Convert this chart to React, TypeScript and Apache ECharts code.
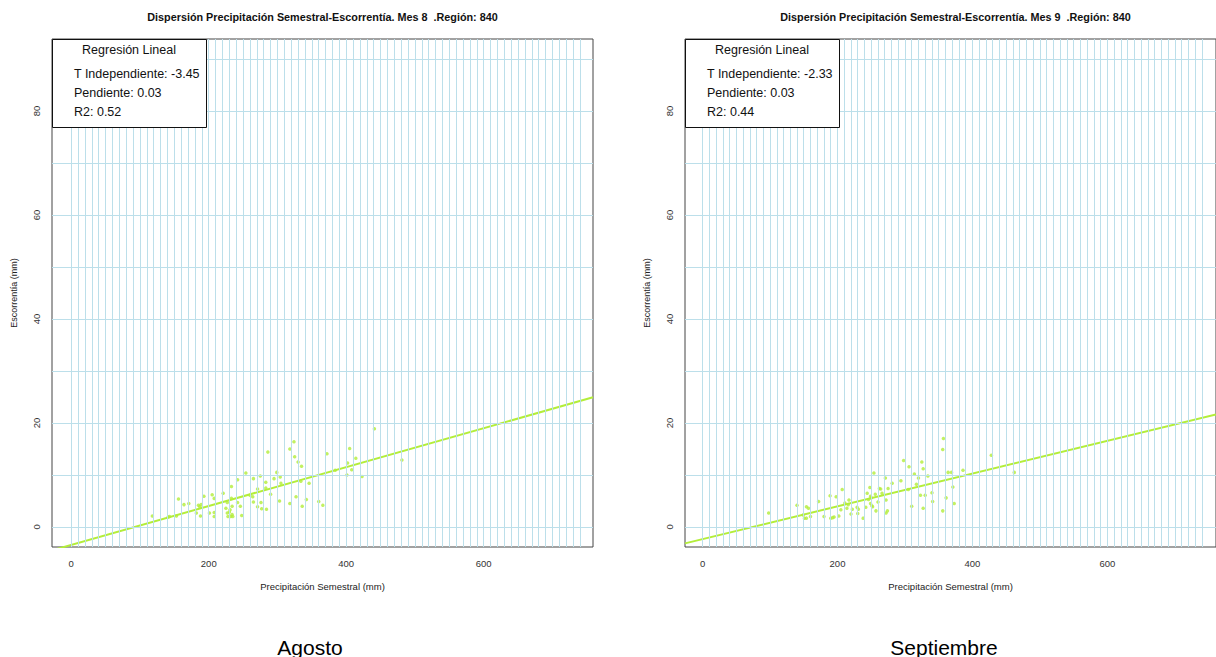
import React, { useEffect, useRef } from "react";
import * as echarts from "echarts";

// ---- data ----
const agostoPrecip = [118, 141, 143, 153, 156, 164, 171, 182, 185, 187, 188, 189, 193, 201, 205, 208, 208, 208, 221, 225, 227, 227, 228, 230, 231, 232, 234, 233, 234, 235, 233, 242, 242, 246, 248, 254, 260, 264, 265, 265, 271, 271, 275, 276, 277, 283, 283, 284, 286, 290, 295, 299, 304, 305, 303, 318, 318, 324, 325, 327, 330, 335, 334, 336, 342, 346, 360, 366, 372, 384, 401, 402, 405, 408, 414, 423, 441, 481];
const agostoEscorrentia = [2.1, 1.9, 2.0, 2.1, 5.4, 4.3, 4.5, 2.7, 4.2, 3.9, 2.1, 4.3, 5.9, 2.7, 6.2, 2.8, 2.0, 5.5, 6.5, 3.6, 4.7, 2.7, 2.0, 2.9, 3.3, 2.0, 4.0, 7.8, 2.4, 2.0, 5.5, 9.1, 4.7, 4.0, 2.2, 10.4, 6.1, 5.8, 9.3, 4.8, 7.3, 3.9, 9.8, 4.7, 3.5, 8.6, 7.5, 3.4, 14.4, 6.3, 9.3, 10.5, 9.6, 8.4, 5.0, 15.0, 4.5, 16.4, 13.5, 5.8, 12.5, 11.7, 8.8, 4.0, 5.3, 8.4, 4.9, 4.2, 14.1, 10.9, 10.0, 12.3, 15.1, 11.0, 13.2, 9.7, 18.9, 12.9];

const septiembrePrecip = [98, 140, 149, 151, 154, 157, 154, 160, 172, 180, 189, 190, 193, 195, 198, 202, 205, 207, 211, 214, 216, 217, 220, 222, 229, 231, 230, 238, 242, 244, 246, 248, 249, 249, 250, 251, 252, 254, 256, 257, 260, 262, 264, 266, 271, 272, 272, 274, 275, 281, 294, 298, 305, 306, 310, 314, 317, 320, 323, 325, 327, 327, 330, 334, 340, 341, 356, 356, 357, 361, 364, 369, 371, 373, 386, 428, 462];
const septiembreEscorrentia = [2.7, 4.2, 2.3, 1.7, 3.9, 3.6, 1.7, 2.0, 4.9, 2.0, 6.0, 1.7, 1.8, 1.9, 5.8, 2.1, 3.3, 7.2, 4.6, 3.6, 4.3, 5.2, 2.5, 3.4, 3.8, 3.4, 2.6, 1.7, 3.8, 6.5, 5.3, 7.6, 5.9, 4.5, 5.6, 4.1, 3.9, 10.4, 6.3, 3.1, 4.8, 7.4, 7.3, 6.5, 9.4, 5.2, 2.7, 3.1, 7.4, 8.4, 8.9, 12.8, 7.2, 11.6, 4.0, 10.2, 8.2, 9.4, 6.1, 12.5, 11.2, 3.6, 6.1, 9.8, 6.6, 4.9, 3.1, 14.9, 17.0, 5.6, 10.5, 10.5, 7.7, 4.5, 10.9, 13.8, 10.5];

// regression coefficients (as drawn)
const agostoIntercept = -3.45;
const agostoSlope = 0.0374;
const septiembreIntercept = -2.33;
const septiembreSlope = 0.0315;

const xTickValues = [0, 200, 400, 600];
const yTickValues = [0, 20, 40, 60, 80];
const vGridValues: number[] = [];
for (let v = 0; v <= 740; v += 10) vGridValues.push(v);
const hGridValues: number[] = [];
for (let v = 0; v <= 90; v += 10) hGridValues.push(v);

const titles = [
  "Dispersión Precipitación Semestral-Escorrentía. Mes 8  .Región: 840",
  "Dispersión Precipitación Semestral-Escorrentía. Mes 9  .Región: 840",
];
const legendLines = [
  ["T Independiente: -3.45", "Pendiente: 0.03", "R2: 0.52"],
  ["T Independiente: -2.33", "Pendiente: 0.03", "R2: 0.44"],
];
const captions = ["Agosto", "Septiembre"];

const FONT = "'Liberation Sans', Arial, Helvetica, sans-serif";
const GREEN = "#B3EE3A";
const GRIDC = "#BCDFEA";

export default function App() {
  const ref = useRef<HTMLDivElement>(null);
  useEffect(() => {
    if (!ref.current) return;
    const chart = echarts.init(ref.current, null, { renderer: "svg" });

    const panels = [
      { left: 52, xMin: -28, xMax: 759, xs: agostoPrecip, ys: agostoEscorrentia, a: agostoIntercept, b: agostoSlope, cap: 310 },
      { left: 685, xMin: -26, xMax: 761, xs: septiembrePrecip, ys: septiembreEscorrentia, a: septiembreIntercept, b: septiembreSlope, cap: 944 },
    ];
    const W = 541, H = 508, TOP = 39;
    const yMin = -3.85, yMax = 93.85;

    const grid: any[] = [];
    const xAxis: any[] = [];
    const yAxis: any[] = [];
    const series: any[] = [];
    const graphic: any[] = [];

    panels.forEach((p, i) => {
      grid.push({ left: p.left, top: TOP, width: W, height: H, show: true, borderColor: "#444", borderWidth: 1, backgroundColor: "transparent" });
      xAxis.push({
        type: "value", gridIndex: i, min: p.xMin, max: p.xMax,
        name: "Precipitación Semestral (mm)", nameLocation: "middle", nameGap: 34,
        nameTextStyle: { fontFamily: FONT, fontSize: 9.5, color: "#222" },
        axisLine: { show: false },
        axisTick: { show: true, length: 5, customValues: xTickValues, lineStyle: { color: "#777" } },
        axisLabel: { customValues: xTickValues, fontFamily: FONT, fontSize: 9.5, color: "#333", margin: 11 },
        splitLine: { show: false },
      });
      yAxis.push({
        type: "value", gridIndex: i, min: yMin, max: yMax,
        name: "Escorrentía (mm)", nameLocation: "middle", nameGap: 34, nameRotate: 90,
        nameTextStyle: { fontFamily: FONT, fontSize: 9, color: "#222" },
        axisLine: { show: false },
        axisTick: { show: true, length: 5, customValues: yTickValues, lineStyle: { color: "#777" } },
        axisLabel: { customValues: yTickValues, rotate: 90, fontFamily: FONT, fontSize: 9.5, color: "#333", margin: 11 },
        splitLine: { show: false },
      });
      // grid lines
      series.push({
        type: "line", xAxisIndex: i, yAxisIndex: i, data: [], z: 1, silent: true,
        markLine: {
          silent: true, symbol: "none", label: { show: false },
          lineStyle: { color: GRIDC, width: 1, type: "solid" },
          emphasis: { disabled: true },
          data: [...vGridValues.map((v) => ({ xAxis: v })), ...hGridValues.map((v) => ({ yAxis: v }))],
        },
      });
      // regression line
      series.push({
        type: "line", xAxisIndex: i, yAxisIndex: i, z: 3, clip: true, symbol: "none", silent: true,
        lineStyle: { color: GREEN, width: 2 },
        data: [[p.xMin, p.a + p.b * p.xMin], [p.xMax, p.a + p.b * p.xMax]],
      });
      // scatter
      series.push({
        type: "scatter", xAxisIndex: i, yAxisIndex: i, z: 4, symbol: "circle", symbolSize: 3.5,
        itemStyle: { color: GREEN },
        data: p.xs.map((x, k) => [x, p.ys[k]]),
      });

      const cx = p.left + W / 2;
      graphic.push({
        type: "text", x: cx, y: 17, z: 100,
        style: { text: titles[i], fontFamily: FONT, fontSize: 10.8, fontWeight: "bold", fill: "#111", align: "center", verticalAlign: "middle", textAlign: "center", textVerticalAlign: "middle" },
      });
      graphic.push({
        type: "rect", z: 100, shape: { x: p.left + 0.5, y: TOP + 0.5, width: 154, height: 88 },
        style: { fill: "#fff", stroke: "#111", lineWidth: 1 },
      });
      graphic.push({
        type: "text", x: p.left + 77, y: 50, z: 101,
        style: { text: "Regresión Lineal", fontFamily: FONT, fontSize: 12.5, fill: "#111", align: "center", verticalAlign: "middle", textAlign: "center", textVerticalAlign: "middle" },
      });
      legendLines[i].forEach((t, k) => {
        graphic.push({
          type: "text", x: p.left + 22, y: 74 + k * 19, z: 101,
          style: { text: t, fontFamily: FONT, fontSize: 12.5, fill: "#111", align: "left", verticalAlign: "middle", textAlign: "left", textVerticalAlign: "middle" },
        });
      });
      graphic.push({
        type: "text", x: p.cap, y: 647, z: 101,
        style: { text: captions[i], fontFamily: FONT, fontSize: 21, fill: "#000", align: "center", verticalAlign: "middle", textAlign: "center", textVerticalAlign: "middle" },
      });
    });

    chart.setOption({
      animation: false,
      backgroundColor: "#fff",
      grid, xAxis, yAxis, series, graphic,
    });
    return () => chart.dispose();
  }, []);
  return <div ref={ref} style={{ position: "fixed", left: 0, top: 0, width: 1216, height: 657 }} />;
}
